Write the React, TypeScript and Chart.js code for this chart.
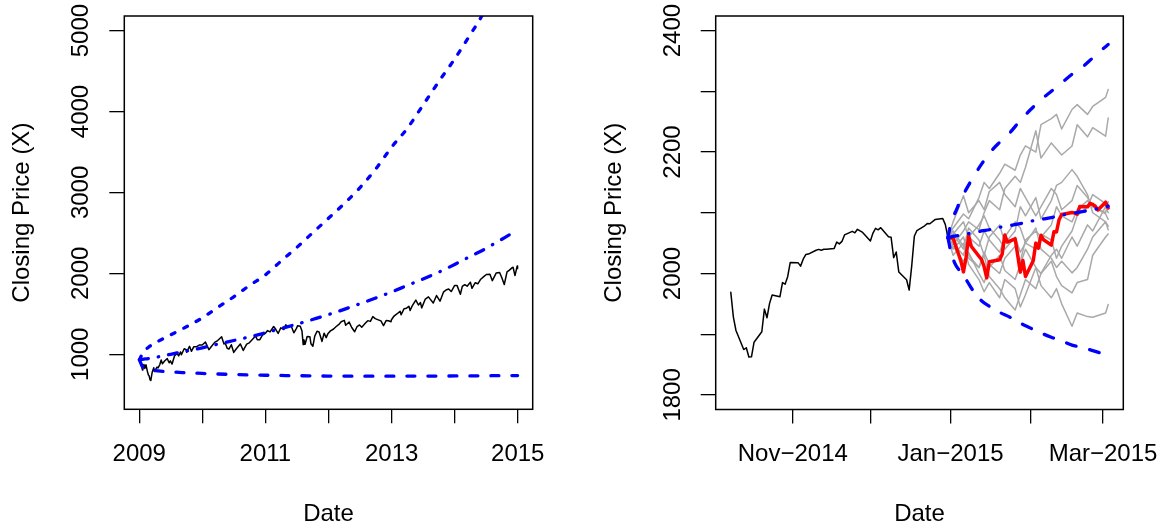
import React, { useEffect, useRef } from "react";
import { Chart, registerables } from "chart.js";
Chart.register(...registerables);

// ---------------- Left panel: 2009-2014 closes and long-range bands ----------------
const histDates = [
  "2009-01-02","2009-01-06","2009-01-09","2009-01-15","2009-01-20","2009-01-22","2009-01-28","2009-02-02","2009-02-09","2009-02-17","2009-02-23","2009-02-27","2009-03-05","2009-03-09","2009-03-17","2009-03-26","2009-03-30","2009-04-14","2009-04-20","2009-04-30","2009-05-08","2009-05-15","2009-05-29","2009-06-12","2009-06-23","2009-06-30","2009-07-10","2009-07-24","2009-08-07","2009-08-17","2009-08-28","2009-09-02","2009-09-18","2009-09-30","2009-10-02","2009-10-19","2009-10-30","2009-11-13","2009-11-27","2009-12-14","2009-12-31",
  "2010-01-19","2010-02-08","2010-02-26","2010-03-15","2010-03-31","2010-04-23","2010-05-06","2010-05-14","2010-05-25","2010-06-04","2010-06-18","2010-07-02","2010-07-16","2010-08-09","2010-08-26","2010-09-15","2010-09-30","2010-10-15","2010-11-05","2010-11-16","2010-11-30","2010-12-15","2010-12-31",
  "2011-01-14","2011-01-28","2011-02-18","2011-03-02","2011-03-16","2011-03-31","2011-04-18","2011-04-29","2011-05-13","2011-05-31","2011-06-15","2011-06-30","2011-07-07","2011-07-22","2011-08-01","2011-08-08","2011-08-12","2011-08-19","2011-08-31","2011-09-16","2011-09-22","2011-10-03","2011-10-14","2011-10-27","2011-11-08","2011-11-25","2011-12-07","2011-12-19","2011-12-30",
  "2012-01-13","2012-01-31","2012-02-15","2012-02-29","2012-03-15","2012-04-02","2012-04-10","2012-04-30","2012-05-15","2012-06-01","2012-06-15","2012-06-29","2012-07-12","2012-07-31","2012-08-16","2012-08-31","2012-09-14","2012-09-28","2012-10-12","2012-10-31","2012-11-15","2012-11-30","2012-12-14","2012-12-28","2012-12-31",
  "2013-01-15","2013-01-31","2013-02-19","2013-02-25","2013-03-14","2013-03-28","2013-04-11","2013-04-18","2013-04-30","2013-05-21","2013-06-05","2013-06-17","2013-06-24","2013-07-15","2013-08-02","2013-08-30","2013-09-18","2013-10-08","2013-10-29","2013-11-15","2013-11-27","2013-12-12","2013-12-31",
  "2014-01-15","2014-02-03","2014-02-14","2014-02-28","2014-03-14","2014-04-02","2014-04-11","2014-04-30","2014-05-15","2014-05-30","2014-06-20","2014-07-03","2014-07-24","2014-08-07","2014-08-29","2014-09-18","2014-10-01","2014-10-15","2014-10-31","2014-11-14","2014-11-28","2014-12-05","2014-12-16","2014-12-29","2014-12-31"
];
const histClose = [
  931.8,934.7,890.4,843.7,805.2,827.5,874.1,825.4,869.9,789.2,743.3,735.1,682.6,676.5,778.1,832.9,787.5,841.5,832.4,872.8,929.2,882.9,919.1,946.2,895.1,919.3,879.1,979.3,1010.5,979.7,1028.9,994.8,1068.3,1057.1,1025.2,1097.9,1036.2,1093.5,1091.5,1114.1,1115.1,
  1150.2,1056.7,1104.5,1150.5,1169.4,1217.3,1128.2,1135.7,1074.0,1064.9,1117.5,1022.6,1064.9,1127.8,1047.2,1125.1,1141.2,1176.2,1225.9,1178.3,1180.6,1235.2,1257.6,
  1293.2,1276.3,1343.0,1308.4,1256.9,1325.8,1305.1,1363.6,1337.8,1345.2,1265.4,1320.6,1353.2,1345.0,1286.9,1119.5,1178.8,1123.5,1218.9,1216.0,1129.6,1099.2,1224.6,1284.6,1275.9,1158.7,1261.0,1205.4,1257.6,
  1289.1,1312.4,1343.2,1365.7,1402.6,1419.0,1358.6,1397.9,1330.7,1278.0,1342.8,1362.2,1334.8,1379.3,1415.5,1406.6,1465.8,1440.7,1428.6,1412.2,1353.3,1416.2,1413.6,1402.4,1426.2,
  1472.3,1498.1,1530.9,1487.9,1563.2,1569.2,1593.4,1541.6,1597.6,1669.2,1608.9,1639.0,1573.1,1682.5,1709.7,1633.0,1725.5,1655.5,1771.9,1798.2,1807.2,1775.5,1848.4,
  1848.4,1741.9,1838.6,1859.5,1841.1,1890.9,1815.7,1883.9,1870.9,1923.6,1962.9,1985.4,1988.0,1909.6,2003.4,2011.4,1946.2,1862.5,2018.1,2039.8,2067.6,2075.4,1972.7,2090.6,2058.9
];

const longBandDates = [
  "2009-01-02","2009-01-20","2009-02-25","2009-04-20","2009-07-02","2009-10-01","2010-01-01","2010-04-01","2010-07-02","2010-10-01","2011-01-01","2011-04-01","2011-07-02","2011-10-01","2012-01-01","2012-04-01","2012-07-02","2012-10-01","2013-01-01","2013-04-01","2013-07-02","2013-10-01","2014-01-01","2014-04-01","2014-06-07","2014-08-08","2014-10-20","2014-12-31"
];
const longUpper = [931,1010,1090,1160,1240,1340,1450,1580,1710,1850,1980,2150,2320,2500,2680,2860,3060,3290,3560,3790,4080,4370,4650,4950,5180,5450,5800,6150];
const longMean = [931,937,948,968,1000,1040,1080,1125,1170,1215,1265,1318,1372,1430,1490,1555,1625,1695,1770,1850,1930,2015,2110,2210,2280,2355,2445,2535];
const longLower = [931,845,810,795,782,772,763,756,750,745,741,738,735,733,731,730,729,729,729,730,730,731,732,733,734,735,736,737];

const longXTicks = ["2009-01-01","2010-01-01","2011-01-01","2012-01-01","2013-01-01","2014-01-01","2015-01-01"];
const longXLabels = ["2009","","2011","","2013","","2015"];
const longYTicks = [1000,2000,3000,4000,5000];
const longYLabels = ["1000","2000","3000","4000","5000"];
const longYLim = [500, 5000];

// ---------------- Right panel: Oct 2014 - Mar 2015 ----------------
const recentDates = [
  "2014-10-08","2014-10-09","2014-10-10","2014-10-13","2014-10-14","2014-10-15","2014-10-16","2014-10-17","2014-10-20","2014-10-21","2014-10-22","2014-10-23","2014-10-24","2014-10-27","2014-10-28","2014-10-29","2014-10-30","2014-10-31",
  "2014-11-03","2014-11-04","2014-11-05","2014-11-06","2014-11-07","2014-11-10","2014-11-11","2014-11-12","2014-11-13","2014-11-14","2014-11-17","2014-11-18","2014-11-19","2014-11-20","2014-11-21","2014-11-24","2014-11-25","2014-11-26","2014-11-28",
  "2014-12-01","2014-12-02","2014-12-03","2014-12-04","2014-12-05","2014-12-08","2014-12-09","2014-12-10","2014-12-11","2014-12-12","2014-12-15","2014-12-16","2014-12-17","2014-12-18","2014-12-19","2014-12-22","2014-12-23","2014-12-24","2014-12-26","2014-12-29","2014-12-30","2014-12-31"
];
const recentClose = [
  1968.9,1928.2,1906.1,1874.7,1877.7,1862.5,1862.8,1886.8,1904.0,1941.3,1927.1,1950.8,1964.6,1961.6,1985.1,1982.3,1994.7,2018.1,
  2017.8,2012.1,2023.6,2031.2,2031.9,2038.3,2039.7,2038.3,2039.8,2039.8,2041.3,2051.8,2048.7,2052.8,2063.5,2069.4,2067.0,2072.8,2067.6,
  2053.4,2066.6,2074.3,2071.9,2075.4,2060.3,2059.8,2026.1,2035.3,2002.3,1989.6,1972.7,2012.9,2061.2,2070.7,2078.5,2082.2,2081.9,2088.8,2090.6,2080.4,2058.9
];

const actualDates = [
  "2014-12-31","2015-01-02","2015-01-05","2015-01-06","2015-01-07","2015-01-08","2015-01-09","2015-01-12","2015-01-13","2015-01-14","2015-01-15","2015-01-16","2015-01-20","2015-01-21","2015-01-22","2015-01-23","2015-01-26","2015-01-27","2015-01-28","2015-01-29","2015-01-30",
  "2015-02-02","2015-02-03","2015-02-04","2015-02-05","2015-02-06","2015-02-09","2015-02-10","2015-02-11","2015-02-12","2015-02-13","2015-02-17","2015-02-18","2015-02-19","2015-02-20","2015-02-23","2015-02-24","2015-02-25","2015-02-26","2015-02-27","2015-03-02","2015-03-03"
];
const actualClose = [
  2058.9,2058.2,2020.6,2002.6,2025.9,2062.1,2044.8,2028.3,2023.0,2011.3,1992.7,2019.4,2022.6,2032.1,2063.2,2051.8,2057.1,2029.6,2002.2,2021.3,1995.0,
  2020.9,2050.0,2041.5,2062.5,2055.5,2046.7,2068.6,2068.5,2088.5,2097.0,2100.3,2099.7,2097.5,2110.3,2109.7,2115.5,2113.9,2110.7,2104.5,2117.4,2107.8
];

const simDates = [
  "2014-12-31","2015-01-02","2015-01-06","2015-01-08","2015-01-12","2015-01-14","2015-01-16","2015-01-20","2015-01-22","2015-01-26","2015-01-28","2015-01-30",
  "2015-02-03","2015-02-05","2015-02-09","2015-02-11","2015-02-13","2015-02-17","2015-02-19","2015-02-23","2015-02-25","2015-03-02","2015-03-03"
];
const sim1 = [2059,2075,2098,2090,2125,2150,2140,2165,2180,2170,2195,2210,2200,2245,2255,2262,2238,2270,2278,2262,2275,2290,2303];
const sim2 = [2059,2048,2070,2085,2072,2100,2120,2105,2140,2160,2150,2175,2235,2190,2215,2205,2195,2210,2245,2225,2240,2226,2256];
const sim3 = [2059,2085,2128,2100,2120,2105,2135,2150,2130,2110,2140,2125,2095,2110,2140,2130,2105,2120,2145,2125,2110,2100,2118];
const sim4 = [2059,2065,2040,2075,2055,2030,2060,2080,2050,2070,2110,2095,2125,2090,2120,2145,2150,2171,2160,2130,2100,2085,2072];
const sim5 = [2059,2040,2060,2030,2010,2035,2015,2000,2025,2045,2020,2055,2070,2060,2080,2110,2095,2085,2105,2120,2110,2098,2089];
const sim6 = [2059,2045,2020,2035,2000,1985,2010,2030,2005,1990,2015,2040,2010,1980,1960,1975,1950,1913,1935,1929,1928,1935,1949];
const sim7 = [2059,2030,2050,2015,1990,1970,1985,1960,1990,1975,1945,1965,2010,2000,2030,2040,2025,2060,2045,2080,2070,2110,2100];
const sim8 = [2059,2070,2045,2025,2010,2030,1995,1975,1960,1940,1965,1990,1975,2000,2020,1995,1980,1968,1985,1990,2030,2060,2065];
const sim9 = [2059,2065,2085,2060,2045,2070,2055,2035,2060,2085,2075,2050,2040,2065,2055,2025,2045,2070,2095,2110,2130,2115,2108];
const sim10 = [2059,2050,2030,2060,2080,2095,2075,2055,2040,2060,2035,2050,2075,2040,2025,2010,2020,2001,2010,2040,2060,2085,2078];
const simPaths = [sim1, sim2, sim3, sim4, sim5, sim6, sim7, sim8, sim9, sim10];

const shortBandDates = [
  "2014-12-31","2015-01-01","2015-01-02","2015-01-03","2015-01-05","2015-01-07","2015-01-10","2015-01-13","2015-01-16","2015-01-20","2015-01-24","2015-01-28",
  "2015-02-01","2015-02-05","2015-02-09","2015-02-13","2015-02-17","2015-02-21","2015-02-25","2015-03-01","2015-03-03"
];
const shortUpper = [2059,2080,2093,2102,2122,2138,2160,2180,2198,2216,2232,2252,2270,2286,2300,2314,2328,2340,2355,2370,2377];
const shortMean = [2059,2060,2061,2062,2063,2065,2067,2070,2072,2076,2079,2082,2086,2089,2092,2096,2099,2102,2105,2109,2111];
const shortLower = [2059,2038,2024,2014,2002,1990,1970,1955,1946,1936,1928,1918,1910,1902,1895,1889,1882,1878,1873,1868,1866];

const shortXTicks = ["2014-11-01","2014-12-01","2015-01-01","2015-02-01","2015-03-01"];
const shortXLabels = ["Nov\u22122014","","Jan\u22122015","","Mar\u22122015"];
const shortYTicks = [1800,1900,2000,2100,2200,2300,2400];
const shortYLabels = ["1800","","2000","","2200","","2400"];
const shortYLim = [1800, 2400];

// ---------------- helpers ----------------
const toDay = (s: string) => Date.parse(s) / 86400000;
const pts = (dates: string[], vals: number[]) => dates.map((d, i) => ({ x: toDay(d), y: vals[i] }));
const FAMILY = "'Liberation Sans', Arial, Helvetica, sans-serif";
const FONT = { family: FAMILY, size: 24 };
const BLUE = "#0000FF";

const boxPlugin = {
  id: "rbox",
  afterDatasetsDraw(chart: any) {
    const { ctx, chartArea } = chart;
    ctx.save();
    ctx.strokeStyle = "#000";
    ctx.lineWidth = 1.5;
    ctx.strokeRect(chartArea.left, chartArea.top, chartArea.right - chartArea.left, chartArea.bottom - chartArea.top);
    ctx.restore();
  },
};

function lineDs(data: any[], color: string, width: number, order: number, dash: number[] = [], smooth = false) {
  return {
    data,
    borderColor: color,
    borderWidth: width,
    borderDash: dash,
    borderCapStyle: "round",
    borderJoinStyle: "round",
    pointRadius: 0,
    fill: false,
    order,
    clip: 0,
    cubicInterpolationMode: smooth ? "monotone" : "default",
    tension: 0,
  };
}

function buildOptions(p: any) {
  const xr = p.xMax0 - p.xMin0;
  const yr = p.yLim[1] - p.yLim[0];
  // label centre = chart bottom + tick length + padding + lineHeight/2  (~454.5 px)
  const xLabelLH = (454.5 - (529 - p.xAxisH) - 14 - 5) * 2 / 24;
  return {
    responsive: false,
    animation: false,
    devicePixelRatio: 1,
    events: [],
    layout: { autoPadding: false, padding: { left: 0, top: 16, right: p.padRight, bottom: 0 } },
    plugins: { legend: { display: false }, tooltip: { enabled: false } },
    scales: {
      x: {
        type: "linear",
        min: p.xMin0 - 0.04 * xr,
        max: p.xMax0 + 0.04 * xr,
        afterBuildTicks: (s: any) => { s.ticks = p.xTicks.map((d: string) => ({ value: toDay(d) })); },
        afterFit: (s: any) => { s.height = p.xAxisH; },
        ticks: {
          autoSkip: false, minRotation: 0, maxRotation: 0, padding: 5, color: "#000",
          font: { family: FAMILY, size: 24, lineHeight: xLabelLH },
          callback: (_v: any, i: number) => p.xLabels[i],
        },
        grid: { drawOnChartArea: false, drawTicks: true, tickLength: 14, tickWidth: 1.3, tickColor: "#000", color: "#000", lineWidth: 1.3 },
        border: { display: false },
        title: { display: true, text: "Date", color: "#000", font: FONT, padding: { top: 0, bottom: 0 } },
      },
      y: {
        type: "linear",
        min: p.yLim[0] - 0.04 * yr,
        max: p.yLim[1] + 0.04 * yr,
        afterBuildTicks: (s: any) => { s.ticks = p.yTicks.map((v: number) => ({ value: v })); },
        afterFit: (s: any) => { s.width = p.yAxisW; },
        ticks: {
          autoSkip: false, minRotation: 90, maxRotation: 90, crossAlign: "center", padding: p.yTickPad, color: "#000", font: FONT,
          callback: (_v: any, i: number) => p.yLabels[i],
        },
        grid: { drawOnChartArea: false, drawTicks: true, tickLength: 15, tickWidth: 1.3, tickColor: "#000", color: "#000", lineWidth: 1.3 },
        border: { display: false },
        title: { display: true, text: "Closing Price (X)", color: "#000", font: FONT, padding: { top: p.yTitlePad, bottom: 0 } },
      },
    },
  };
}

function leftConfig(): any {
  return {
    type: "line",
    data: {
      datasets: [
        lineDs(pts(longBandDates, longUpper), BLUE, 3.3, 0, [4, 10], true),
        lineDs(pts(longBandDates, longLower), BLUE, 3.3, 0, [8, 13], true),
        lineDs(pts(longBandDates, longMean), BLUE, 3.3, 0, [9, 10, 0.5, 10], true),
        lineDs(pts(histDates, histClose), "#000", 1.5, 3),
      ],
    },
    options: buildOptions({
      xMin0: toDay(histDates[0]), xMax0: toDay(histDates[histDates.length - 1]),
      xTicks: longXTicks, xLabels: longXLabels, yTicks: longYTicks, yLabels: longYLabels, yLim: longYLim,
      padRight: 583 - 532.7, xAxisH: 529 - 409.3, yAxisW: 124.3, yTickPad: 1, yTitlePad: 8,
    }),
    plugins: [boxPlugin],
  };
}

function rightConfig(): any {
  const sims = simPaths.map((s) => lineDs(pts(simDates, s), "#A9A9A9", 1.5, 2));
  return {
    type: "line",
    data: {
      datasets: [
        lineDs(pts(shortBandDates, shortUpper), BLUE, 3.3, 0, [9, 16], true),
        lineDs(pts(shortBandDates, shortLower), BLUE, 3.3, 0, [10, 14], true),
        lineDs(pts(shortBandDates, shortMean), BLUE, 3.3, 0, [10, 11, 0.5, 11], true),
        lineDs(pts(actualDates, actualClose), "#FF0000", 3.5, 1),
        ...sims,
        lineDs(pts(recentDates, recentClose), "#000", 1.5, 3),
      ],
    },
    options: buildOptions({
      xMin0: toDay(recentDates[0]), xMax0: toDay(actualDates[actualDates.length - 1]),
      xTicks: shortXTicks, xLabels: shortXLabels, yTicks: shortYTicks, yLabels: shortYLabels, yLim: shortYLim,
      padRight: 584 - 540.3, xAxisH: 529 - 409.5, yAxisW: 132.7, yTickPad: 1, yTitlePad: 16.6,
    }),
    plugins: [boxPlugin],
  };
}

export default function App() {
  const leftRef = useRef<HTMLCanvasElement>(null);
  const rightRef = useRef<HTMLCanvasElement>(null);
  useEffect(() => {
    const c1 = new Chart(leftRef.current as HTMLCanvasElement, leftConfig());
    const c2 = new Chart(rightRef.current as HTMLCanvasElement, rightConfig());
    return () => { c1.destroy(); c2.destroy(); };
  }, []);
  return (
    <div style={{ position: "absolute", left: 0, top: 0, width: 1167, height: 529, background: "#fff" }}>
      <canvas ref={leftRef} width={583} height={529} style={{ position: "absolute", left: 0, top: 0, width: 583, height: 529 }} />
      <canvas ref={rightRef} width={584} height={529} style={{ position: "absolute", left: 583, top: 0, width: 584, height: 529 }} />
    </div>
  );
}
